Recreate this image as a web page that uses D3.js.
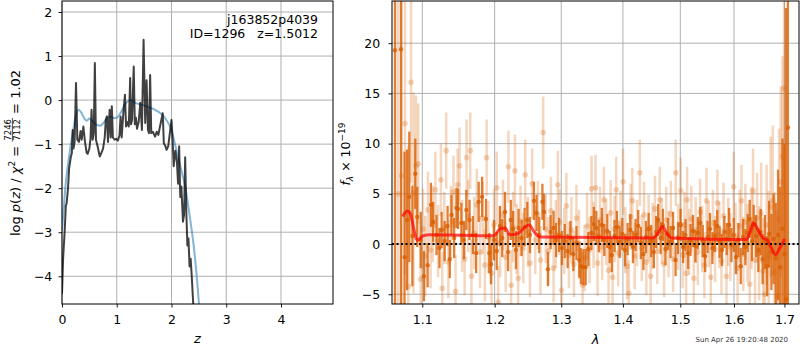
<!DOCTYPE html>
<html>
<head>
<meta charset="utf-8">
<script src="https://cdn.jsdelivr.net/npm/d3@7"></script>
<style>
body { margin: 0; background: #fff; }
svg { font-family: "DejaVu Sans", sans-serif; }
</style>
</head>
<body>
<div id="chart"></div>
<script>
// ---- data: left panel, log p(z) ----
const pzLine = [[0.00,-4.4],[0.02,-3.6],[0.05,-2.95],[0.07,-2.4],[0.085,-2.34],[0.11,-2.0],[0.13,-1.55],[0.16,-1.3],[0.18,-1.2],[0.195,-0.68],[0.21,-1.1],[0.23,-0.95],[0.256,0.39],[0.28,-0.9],[0.31,-0.95],[0.34,-0.7],[0.36,-0.9],[0.39,-0.6],[0.42,-0.95],[0.45,-1.2],[0.47,-1.22],[0.50,-1.1],[0.52,-0.88],[0.54,-0.22],[0.56,-0.9],[0.58,-0.75],[0.60,0.84],[0.62,-0.9],[0.65,-1.05],[0.69,-1.28],[0.72,-1.2],[0.75,-1.1],[0.78,-0.85],[0.80,-0.45],[0.82,-0.37],[0.84,-0.95],[0.87,-0.22],[0.89,-0.85],[0.91,-0.14],[0.93,-0.85],[0.96,-0.9],[0.99,-0.88],[1.02,-0.92],[1.05,-0.8],[1.07,-0.37],[1.09,-0.85],[1.12,-0.3],[1.15,0.12],[1.17,-0.6],[1.20,-0.5],[1.22,-0.6],[1.245,0.5],[1.26,-0.55],[1.28,-0.45],[1.31,0.76],[1.33,-0.55],[1.35,-0.4],[1.37,-0.65],[1.40,-0.5],[1.43,-0.06],[1.46,-0.68],[1.49,1.37],[1.52,-0.52],[1.545,0.45],[1.57,-0.68],[1.59,-0.75],[1.61,0.57],[1.63,-0.75],[1.66,-0.72],[1.70,-0.83],[1.73,-0.72],[1.76,-0.79],[1.79,-0.6],[1.84,-0.3],[1.86,-0.98],[1.89,-1.05],[1.91,-1.13],[1.94,-1.05],[1.97,-0.75],[2.00,-0.45],[2.02,-0.9],[2.04,-1.5],[2.07,-1.15],[2.10,-1.42],[2.12,-1.9],[2.14,-1.05],[2.16,-2.2],[2.18,-1.96],[2.21,-2.76],[2.23,-2.6],[2.25,-1.3],[2.27,-2.5],[2.29,-3.3],[2.31,-3.14],[2.33,-3.78],[2.35,-3.6],[2.37,-4.0],[2.40,-4.7],[2.42,-5.2]];
const pzPrior = [[0.00,-2.95],[0.03,-2.5],[0.06,-2.0],[0.10,-1.55],[0.15,-1.1],[0.20,-0.72],[0.25,-0.38],[0.30,-0.22],[0.35,-0.28],[0.40,-0.4],[0.45,-0.47],[0.50,-0.42],[0.55,-0.47],[0.60,-0.53],[0.65,-0.57],[0.70,-0.58],[0.75,-0.53],[0.80,-0.45],[0.85,-0.39],[0.90,-0.38],[0.95,-0.41],[1.00,-0.4],[1.05,-0.33],[1.10,-0.22],[1.15,-0.1],[1.20,-0.03],[1.25,0.0],[1.30,-0.03],[1.35,-0.07],[1.40,-0.09],[1.50,-0.12],[1.60,-0.17],[1.70,-0.22],[1.80,-0.3],[1.85,-0.36],[1.90,-0.44],[1.95,-0.54],[2.00,-0.68],[2.05,-0.93],[2.10,-1.18],[2.15,-1.45],[2.20,-1.7],[2.25,-1.96],[2.30,-2.35],[2.35,-2.78],[2.40,-3.25],[2.45,-3.85],[2.50,-4.6],[2.52,-4.95]];
const zTicks = [0, 1, 2, 3, 4];
const pzTicks = [-4, -3, -2, -1, 0, 1, 2];

// ---- data: right panel, spectrum [lambda, flux, err] ----
const darkPts = [[1.0645,19.3,100],[1.0722,19.4,100],[1.0768,-1.3,10.5],[1.0800,2.4,7],[1.0830,4.7,6.5],[1.0870,0.8,5],[1.0908,7.0,3.5],[1.0934,2.7,3],[1.0980,0.4,2.8],[1.1022,-3.2,2.5],[1.1071,-2.1,2.2],[1.1115,3.9,2.2],[1.1145,2.2,2],[1.1190,0.9,2],[1.1230,-0.4,2],[1.1259,1.4,1.8],[1.1300,0.3,2],[1.1340,1.8,2],[1.1370,-1.5,1.9],[1.1393,2.9,2],[1.1430,0.6,2],[1.1461,3.6,2],[1.1483,3.5,2],[1.1529,2.1,2],[1.1565,0.4,1.9],[1.1598,3.4,2],[1.1643,2.4,2],[1.1690,0.9,1.9],[1.1736,-0.9,2],[1.1772,4.2,2],[1.1820,4.7,2],[1.1876,2.5,2],[1.1923,-0.9,2],[1.1947,-2.0,2],[1.1990,0.4,2],[1.2030,-0.7,1.9],[1.2075,1.8,2],[1.2110,0.6,1.9],[1.2150,3.2,2],[1.2195,-0.8,1.9],[1.2235,2.4,2],[1.2270,1.5,1.8],[1.2310,-0.6,1.9],[1.2350,1.6,1.9],[1.2395,0.6,1.8],[1.2440,1.7,1.9],[1.2480,2.4,1.8],[1.2520,0.9,1.8],[1.2580,4.3,1.9],[1.2620,3.1,1.8],[1.2660,0.9,1.8],[1.2709,4.2,1.8],[1.2734,3.2,1.8],[1.2793,-2.5,1.7],[1.2835,1.2,1.7],[1.2880,1.6,1.7],[1.2920,0.4,1.7],[1.2965,0.9,1.7],[1.3010,-0.4,1.7],[1.3055,0.3,1.7],[1.3100,-0.7,1.7],[1.3145,0.6,1.7],[1.3190,-1.0,1.7],[1.3240,0.1,1.7],[1.3285,-1.6,1.8],[1.3311,-2.2,1.8],[1.3350,-2.3,1.8],[1.3387,-2.3,1.8],[1.3430,-0.5,1.7],[1.3480,1.1,1.7],[1.3520,2.0,1.7],[1.3560,1.6,1.7],[1.3600,0.8,1.6],[1.3650,1.9,1.7],[1.3690,0.4,1.6],[1.3740,1.3,1.7],[1.3780,-0.3,1.6],[1.3814,-1.1,1.7],[1.3860,0.8,1.6],[1.3900,1.7,1.6],[1.3945,0.2,1.6],[1.3990,1.0,1.6],[1.4035,-0.6,1.6],[1.4080,0.5,1.6],[1.4125,1.4,1.6],[1.4170,-0.3,1.6],[1.4215,0.9,1.6],[1.4260,1.8,1.6],[1.4305,0.1,1.6],[1.4350,-1.0,1.6],[1.4395,0.7,1.6],[1.4440,1.5,1.6],[1.4485,0.3,1.6],[1.4530,-0.8,1.6],[1.4570,1.2,1.6],[1.4606,2.4,1.6],[1.4650,0.6,1.6],[1.4690,1.9,1.6],[1.4735,-0.5,1.6],[1.4780,1.0,1.6],[1.4825,0.2,1.6],[1.4870,1.6,1.6],[1.4915,-1.6,1.6],[1.4960,0.6,1.6],[1.5005,1.9,1.6],[1.5050,-0.3,1.6],[1.5095,0.9,1.6],[1.5140,-0.9,1.6],[1.5185,0.4,1.6],[1.5230,1.3,1.6],[1.5275,-0.2,1.6],[1.5320,1.1,1.6],[1.5365,2.1,1.6],[1.5410,0.3,1.6],[1.5455,-1.2,1.6],[1.5500,0.7,1.6],[1.5545,1.5,1.6],[1.5590,-0.4,1.6],[1.5635,0.8,1.6],[1.5680,1.8,1.6],[1.5725,0.2,1.6],[1.5770,-0.6,1.6],[1.5815,1.2,1.6],[1.5860,0.5,1.6],[1.5905,1.9,1.7],[1.5950,-0.1,1.7],[1.5995,0.9,1.7],[1.6040,-1.3,1.7],[1.6085,0.4,1.7],[1.6130,-2.2,1.8],[1.6175,0.7,1.8],[1.6220,-0.3,1.8],[1.6265,1.1,1.9],[1.6305,2.5,1.9],[1.6350,0.3,2],[1.6383,1.9,2],[1.6430,0.8,2.1],[1.6475,-0.6,2.2],[1.6520,1.2,2.3],[1.6560,-1.5,2.5],[1.6605,0.2,2.7],[1.6650,-2.2,3],[1.6690,1.0,3.3],[1.6735,-0.8,3.8],[1.6780,0.5,4.5],[1.6823,-1.4,5.5],[1.6870,0.9,6.5],[1.6915,-2.3,8],[1.6960,1.5,9],[1.7000,-1.0,11],[1.7032,-5.5,29],[1.7071,11.6,100]];
const lightPts = [[1.0684,5.0,25],[1.0730,6.8,20],[1.0774,12.0,15],[1.0817,-4.2,14],[1.0852,16.1,10],[1.0885,5.1,10],[1.0917,7.8,7],[1.0947,8.0,6],[1.0979,-3.5,4.5],[1.1010,1.5,4],[1.1040,-1.2,4],[1.1075,3.4,3.8],[1.1110,-0.6,3.8],[1.1140,2.0,3.8],[1.1175,5.4,3.8],[1.1210,0.3,3.6],[1.1249,6.4,3.6],[1.1267,-4.4,3.6],[1.1295,1.6,3.6],[1.1321,9.3,3.8],[1.1350,-1.8,3.6],[1.1385,2.2,3.6],[1.1420,5.2,3.6],[1.1449,-4.7,3.6],[1.1477,5.9,3.6],[1.1505,7.8,3.8],[1.1540,0.8,3.6],[1.1575,-1.5,3.6],[1.1602,8.6,3.8],[1.1625,2.8,3.6],[1.1653,9.3,3.8],[1.1670,-3.2,3.6],[1.1710,1.1,3.6],[1.1745,3.9,3.6],[1.1790,-0.8,3.6],[1.1830,2.6,3.6],[1.1860,-2.1,3.6],[1.1885,8.6,3.8],[1.1910,0.7,3.6],[1.1955,-2.9,3.6],[1.1990,1.9,3.6],[1.2030,5.6,3.6],[1.2051,-5.8,3.6],[1.2080,0.2,3.5],[1.2120,2.9,3.5],[1.2160,-1.3,3.5],[1.2200,7.7,3.6],[1.2240,-4.1,3.5],[1.2270,1.7,3.5],[1.2296,7.3,3.6],[1.2320,0.5,3.5],[1.2344,-3.4,3.5],[1.2380,2.3,3.5],[1.2420,-0.4,3.5],[1.2449,6.9,3.5],[1.2490,1.2,3.5],[1.2520,-1.9,3.4],[1.2553,6.0,3.5],[1.2600,0.4,3.4],[1.2640,2.9,3.4],[1.2680,-1.6,3.4],[1.2721,11.1,3.6],[1.2760,1.5,3.4],[1.2800,-0.7,3.4],[1.2840,3.3,3.4],[1.2880,-2.4,3.4],[1.2915,1.0,3.4],[1.2947,5.9,3.4],[1.2975,2.2,3.3],[1.3005,-4.6,3.4],[1.3046,0.3,3.3],[1.3080,3.8,3.3],[1.3120,-1.1,3.3],[1.3160,1.4,3.3],[1.3200,-2.0,3.3],[1.3240,2.6,3.3],[1.3280,0.1,3.3],[1.3337,-4.1,3.3],[1.3370,-1.4,3.3],[1.3410,1.8,3.3],[1.3450,-0.6,3.3],[1.3482,5.5,3.3],[1.3515,0.9,3.3],[1.3547,5.6,3.3],[1.3580,-1.9,3.3],[1.3620,2.4,3.3],[1.3655,-0.3,3.3],[1.3684,4.4,3.3],[1.3720,1.2,3.3],[1.3760,-2.6,3.3],[1.3795,3.1,3.3],[1.3827,-3.3,3.3],[1.3860,1.5,3.3],[1.3888,5.4,3.3],[1.3920,-0.9,3.3],[1.3960,2.0,3.3],[1.4003,6.2,3.3],[1.4040,0.4,3.3],[1.4070,-2.2,3.3],[1.4100,-4.9,3.3],[1.4130,2.7,3.3],[1.4160,4.3,3.3],[1.4200,-1.2,3.3],[1.4240,1.1,3.3],[1.4288,7.1,3.3],[1.4320,-0.4,3.3],[1.4360,2.9,3.3],[1.4400,-1.8,3.3],[1.4440,1.6,3.3],[1.4475,-3.2,3.3],[1.4510,0.8,3.3],[1.4550,3.5,3.3],[1.4590,-0.7,3.3],[1.4634,4.4,3.3],[1.4670,1.3,3.3],[1.4710,-2.0,3.3],[1.4750,2.4,3.3],[1.4790,0.0,3.3],[1.4830,3.0,3.3],[1.4870,-1.5,3.3],[1.4918,7.1,3.3],[1.4960,0.7,3.3],[1.5008,5.3,3.3],[1.5040,-1.1,3.3],[1.5075,1.9,3.3],[1.5105,-2.9,3.3],[1.5123,4.4,3.3],[1.5160,0.2,3.3],[1.5200,2.5,3.3],[1.5245,-3.4,3.3],[1.5280,1.4,3.3],[1.5320,-0.8,3.3],[1.5360,3.2,3.3],[1.5400,0.5,3.3],[1.5440,-2.1,3.3],[1.5480,4.3,3.3],[1.5520,1.0,3.3],[1.5560,-3.3,3.3],[1.5600,2.1,3.3],[1.5640,-0.5,3.3],[1.5684,4.1,3.3],[1.5720,0.9,3.3],[1.5760,-1.7,3.3],[1.5800,2.8,3.3],[1.5856,-3.2,3.4],[1.5890,1.2,3.4],[1.5930,-0.3,3.4],[1.5995,5.7,3.5],[1.6030,0.6,3.5],[1.6070,-2.4,3.5],[1.6110,1.8,3.6],[1.6144,4.3,3.6],[1.6180,-1.0,3.7],[1.6220,2.2,3.8],[1.6260,0.1,3.9],[1.6305,-4.0,4],[1.6340,1.6,4.1],[1.6370,5.3,4.2],[1.6410,-1.6,4.3],[1.6450,2.6,4.5],[1.6490,-0.9,4.7],[1.6530,3.1,5],[1.6570,-2.7,5.3],[1.6603,-5.0,5.6],[1.6640,1.9,6],[1.6680,-1.2,6.5],[1.6720,3.7,7],[1.6764,4.3,7.5],[1.6800,-2.8,8],[1.6850,-5.2,8.5],[1.6890,2.5,9],[1.6925,6.2,9.5],[1.6960,8.7,10],[1.6992,15.5,10]];
const modelPts = [[1.0744,2.75],[1.0804,3.3],[1.0839,3.1],[1.0917,0.6],[1.0934,0.35],[1.1013,0.83],[1.1102,0.93],[1.1989,0.83],[1.2076,1.5],[1.2149,1.6],[1.2222,0.93],[1.2321,1.0],[1.2509,1.9],[1.2580,1.25],[1.2671,0.7],[1.4518,0.6],[1.4606,1.1],[1.4684,1.75],[1.4754,1.1],[1.4843,0.6],[1.6241,0.45],[1.6305,1.1],[1.6383,2.1],[1.6469,1.4],[1.6568,0.6],[1.6648,0.43],[1.6736,-0.4],[1.6823,-1.07],[1.6904,-0.4],[1.7006,0.5]];
const lamTicks = [1.1, 1.2, 1.3, 1.4, 1.5, 1.6, 1.7];
const fluxTicks = [-5, 0, 5, 10, 15, 20];

const infoLines = ["j163852p4039", "ID=1296   z=1.5012"];
const stamp = "Sun Apr 26 19:20:48 2020";

// ---- layout ----
const svg = d3.select("#chart").append("svg").attr("width", 800).attr("height", 350);
const boxL = { left: 62, right: 333, top: 1, bottom: 304 };
const boxR = { left: 392, right: 799, top: 1, bottom: 304 };

const xz = d3.scaleLinear().domain([0, 4.95]).range([boxL.left, boxL.right]);
const yz = d3.scaleLinear().domain([-4.63, 2.25]).range([boxL.bottom, boxL.top]);
const xl = d3.scaleLog().domain([1.0607, 1.730]).range([boxR.left, boxR.right]);
const yf = d3.scaleLinear().domain([-5.97, 24.2]).range([boxR.bottom, boxR.top]);

const minus = d => (d < 0 ? "\u2212" + Math.abs(d) : String(d));

function clipFor(id, box) {
    svg.append("clipPath").attr("id", id).append("rect")
        .attr("x", box.left).attr("y", box.top)
        .attr("width", box.right - box.left).attr("height", box.bottom - box.top);
}
clipFor("clipL", boxL);
clipFor("clipR", boxR);

function drawFrame(box, xs, ys, xt, yt, xfmt, ypad) {
    // grid
    const g = svg.append("g");
    g.selectAll(".vg").data(xt).enter().append("line")
        .attr("x1", d => xs(d)).attr("x2", d => xs(d))
        .attr("y1", box.top).attr("y2", box.bottom)
        .attr("stroke", "#b0b0b0").attr("stroke-width", 1);
    g.selectAll(".hg").data(yt).enter().append("line")
        .attr("x1", box.left).attr("x2", box.right)
        .attr("y1", d => ys(d)).attr("y2", d => ys(d))
        .attr("stroke", "#b0b0b0").attr("stroke-width", 1);

    const ax = svg.append("g").attr("transform", `translate(0,${box.bottom})`)
        .call(d3.axisBottom(xs).tickValues(xt).tickFormat(xfmt).tickSize(3.5).tickPadding(7.5));
    const ay = svg.append("g").attr("transform", `translate(${box.left},0)`)
        .call(d3.axisLeft(ys).tickValues(yt).tickFormat(minus).tickSize(3.5).tickPadding(ypad));
    [ax, ay].forEach(a => {
        a.select(".domain").remove();
        a.attr("font-family", null).attr("font-size", null);
        a.selectAll("text").style("font-size", "12.5px").attr("fill", "#000");
        a.selectAll("line").attr("stroke", "#000").attr("stroke-width", 0.9);
    });
}

function drawBorder(box) {
    svg.append("rect")
        .attr("x", box.left).attr("y", box.top)
        .attr("width", box.right - box.left).attr("height", box.bottom - box.top)
        .attr("fill", "none").attr("stroke", "#000").attr("stroke-width", 1);
}

// ---- left panel ----
drawFrame(boxL, xz, yz, zTicks, pzTicks, d => d, 6.2);

const plotL = svg.append("g").attr("clip-path", "url(#clipL)");
plotL.append("path")
    .datum(pzPrior)
    .attr("fill", "none")
    .attr("stroke", "#1f77b4").attr("stroke-opacity", 0.55).attr("stroke-width", 2)
    .attr("d", d3.line().x(d => xz(d[0])).y(d => yz(d[1])).curve(d3.curveMonotoneX));
plotL.append("path")
    .datum(pzLine)
    .attr("fill", "none")
    .attr("stroke", "#000").attr("stroke-opacity", 0.75).attr("stroke-width", 2)
    .attr("stroke-linejoin", "round")
    .attr("d", d3.line().x(d => xz(d[0])).y(d => yz(d[1])));
drawBorder(boxL);

svg.selectAll(".info").data(infoLines).enter().append("text")
    .attr("x", 318).attr("y", (d, i) => 24 + i * 14.3)
    .attr("text-anchor", "end").style("font-size", "12.5px")
    .style("white-space", "pre").attr("xml:space", "preserve")
    .text(d => d);

svg.append("text")
    .attr("x", (boxL.left + boxL.right) / 2).attr("y", 343)
    .attr("text-anchor", "middle").style("font-size", "13px").style("font-style", "italic")
    .text("z");

// y label with a stacked fraction
const labL = svg.append("g").attr("transform", "translate(20,153) rotate(-90)");
const t1 = labL.append("text").style("font-size", "13px").style("white-space", "pre");
t1.append("tspan").text("log ");
t1.append("tspan").style("font-style", "italic").text("p");
t1.append("tspan").text("(");
t1.append("tspan").style("font-style", "italic").text("z");
t1.append("tspan").text(") / ");
t1.append("tspan").style("font-style", "italic").text("\u03c7");
t1.append("tspan").style("font-size", "9px").attr("dy", -5).text("2");
t1.append("tspan").attr("dy", 5).text(" = ");
const num = labL.append("text").style("font-size", "8.5px").attr("text-anchor", "middle").attr("y", -8.8).text("7246");
const den = labL.append("text").style("font-size", "8.5px").attr("text-anchor", "middle").attr("y", 0.3).text("7112");
const t3 = labL.append("text").style("font-size", "13px").style("white-space", "pre").text(" = 1.02");
const w1 = t1.node().getComputedTextLength();
const wf = Math.max(num.node().getComputedTextLength(), den.node().getComputedTextLength()) + 2;
const w3 = t3.node().getComputedTextLength();
const x0 = -(w1 + wf + w3) / 2;
t1.attr("x", x0);
num.attr("x", x0 + w1 + wf / 2);
den.attr("x", x0 + w1 + wf / 2);
labL.append("line")
    .attr("x1", x0 + w1).attr("x2", x0 + w1 + wf)
    .attr("y1", -7.6).attr("y2", -7.6)
    .attr("stroke", "#000").attr("stroke-width", 0.7);
t3.attr("x", x0 + w1 + wf);

// ---- right panel ----
drawFrame(boxR, xl, yf, lamTicks, fluxTicks, d => d.toFixed(1), 8.3);

const plotR = svg.append("g").attr("clip-path", "url(#clipR)");
const orange = "#d95f02";

function drawErrSet(pts, alpha, r, bw) {
    const g = plotR.append("g");
    g.selectAll("line").data(pts).enter().append("line")
        .attr("x1", d => xl(d[0])).attr("x2", d => xl(d[0]))
        .attr("y1", d => yf(d[1] - d[2])).attr("y2", d => yf(d[1] + d[2]))
        .attr("stroke", orange).attr("stroke-opacity", alpha).attr("stroke-width", bw);
    g.selectAll("circle").data(pts).enter().append("circle")
        .attr("cx", d => xl(d[0])).attr("cy", d => yf(d[1]))
        .attr("r", r)
        .attr("fill", orange).attr("fill-opacity", alpha);
}
drawErrSet(lightPts, 0.26, 2.8, 2.5);
drawErrSet(darkPts, 0.8, 2.2, 2.3);

plotR.append("path")
    .datum(modelPts)
    .attr("fill", "none")
    .attr("stroke", "red").attr("stroke-opacity", 0.7).attr("stroke-width", 3)
    .attr("d", d3.line().x(d => xl(d[0])).y(d => yf(d[1])).curve(d3.curveMonotoneX));

plotR.append("line")
    .attr("x1", boxR.left).attr("x2", boxR.right)
    .attr("y1", yf(0)).attr("y2", yf(0))
    .attr("stroke", "#000").attr("stroke-width", 2).attr("stroke-dasharray", "2,2.5");
drawBorder(boxR);

svg.append("text")
    .attr("x", (boxR.left + boxR.right) / 2).attr("y", 344)
    .attr("text-anchor", "middle").style("font-size", "13px").style("font-style", "italic")
    .text("\u03bb");

const labR = svg.append("text")
    .attr("transform", "translate(350,154) rotate(-90)")
    .attr("text-anchor", "middle").style("font-size", "12.5px").style("white-space", "pre");
labR.append("tspan").style("font-style", "italic").text("f");
labR.append("tspan").style("font-style", "italic").style("font-size", "9px").attr("dy", 3).text("\u03bb");
labR.append("tspan").attr("dy", -3).text(" \u00d7 10");
labR.append("tspan").style("font-size", "9px").attr("dy", -5).text("\u221219");

svg.append("text")
    .attr("x", 788).attr("y", 342)
    .attr("text-anchor", "end").style("font-size", "7px").attr("fill", "#333")
    .text(stamp);
</script>
</body>
</html>
